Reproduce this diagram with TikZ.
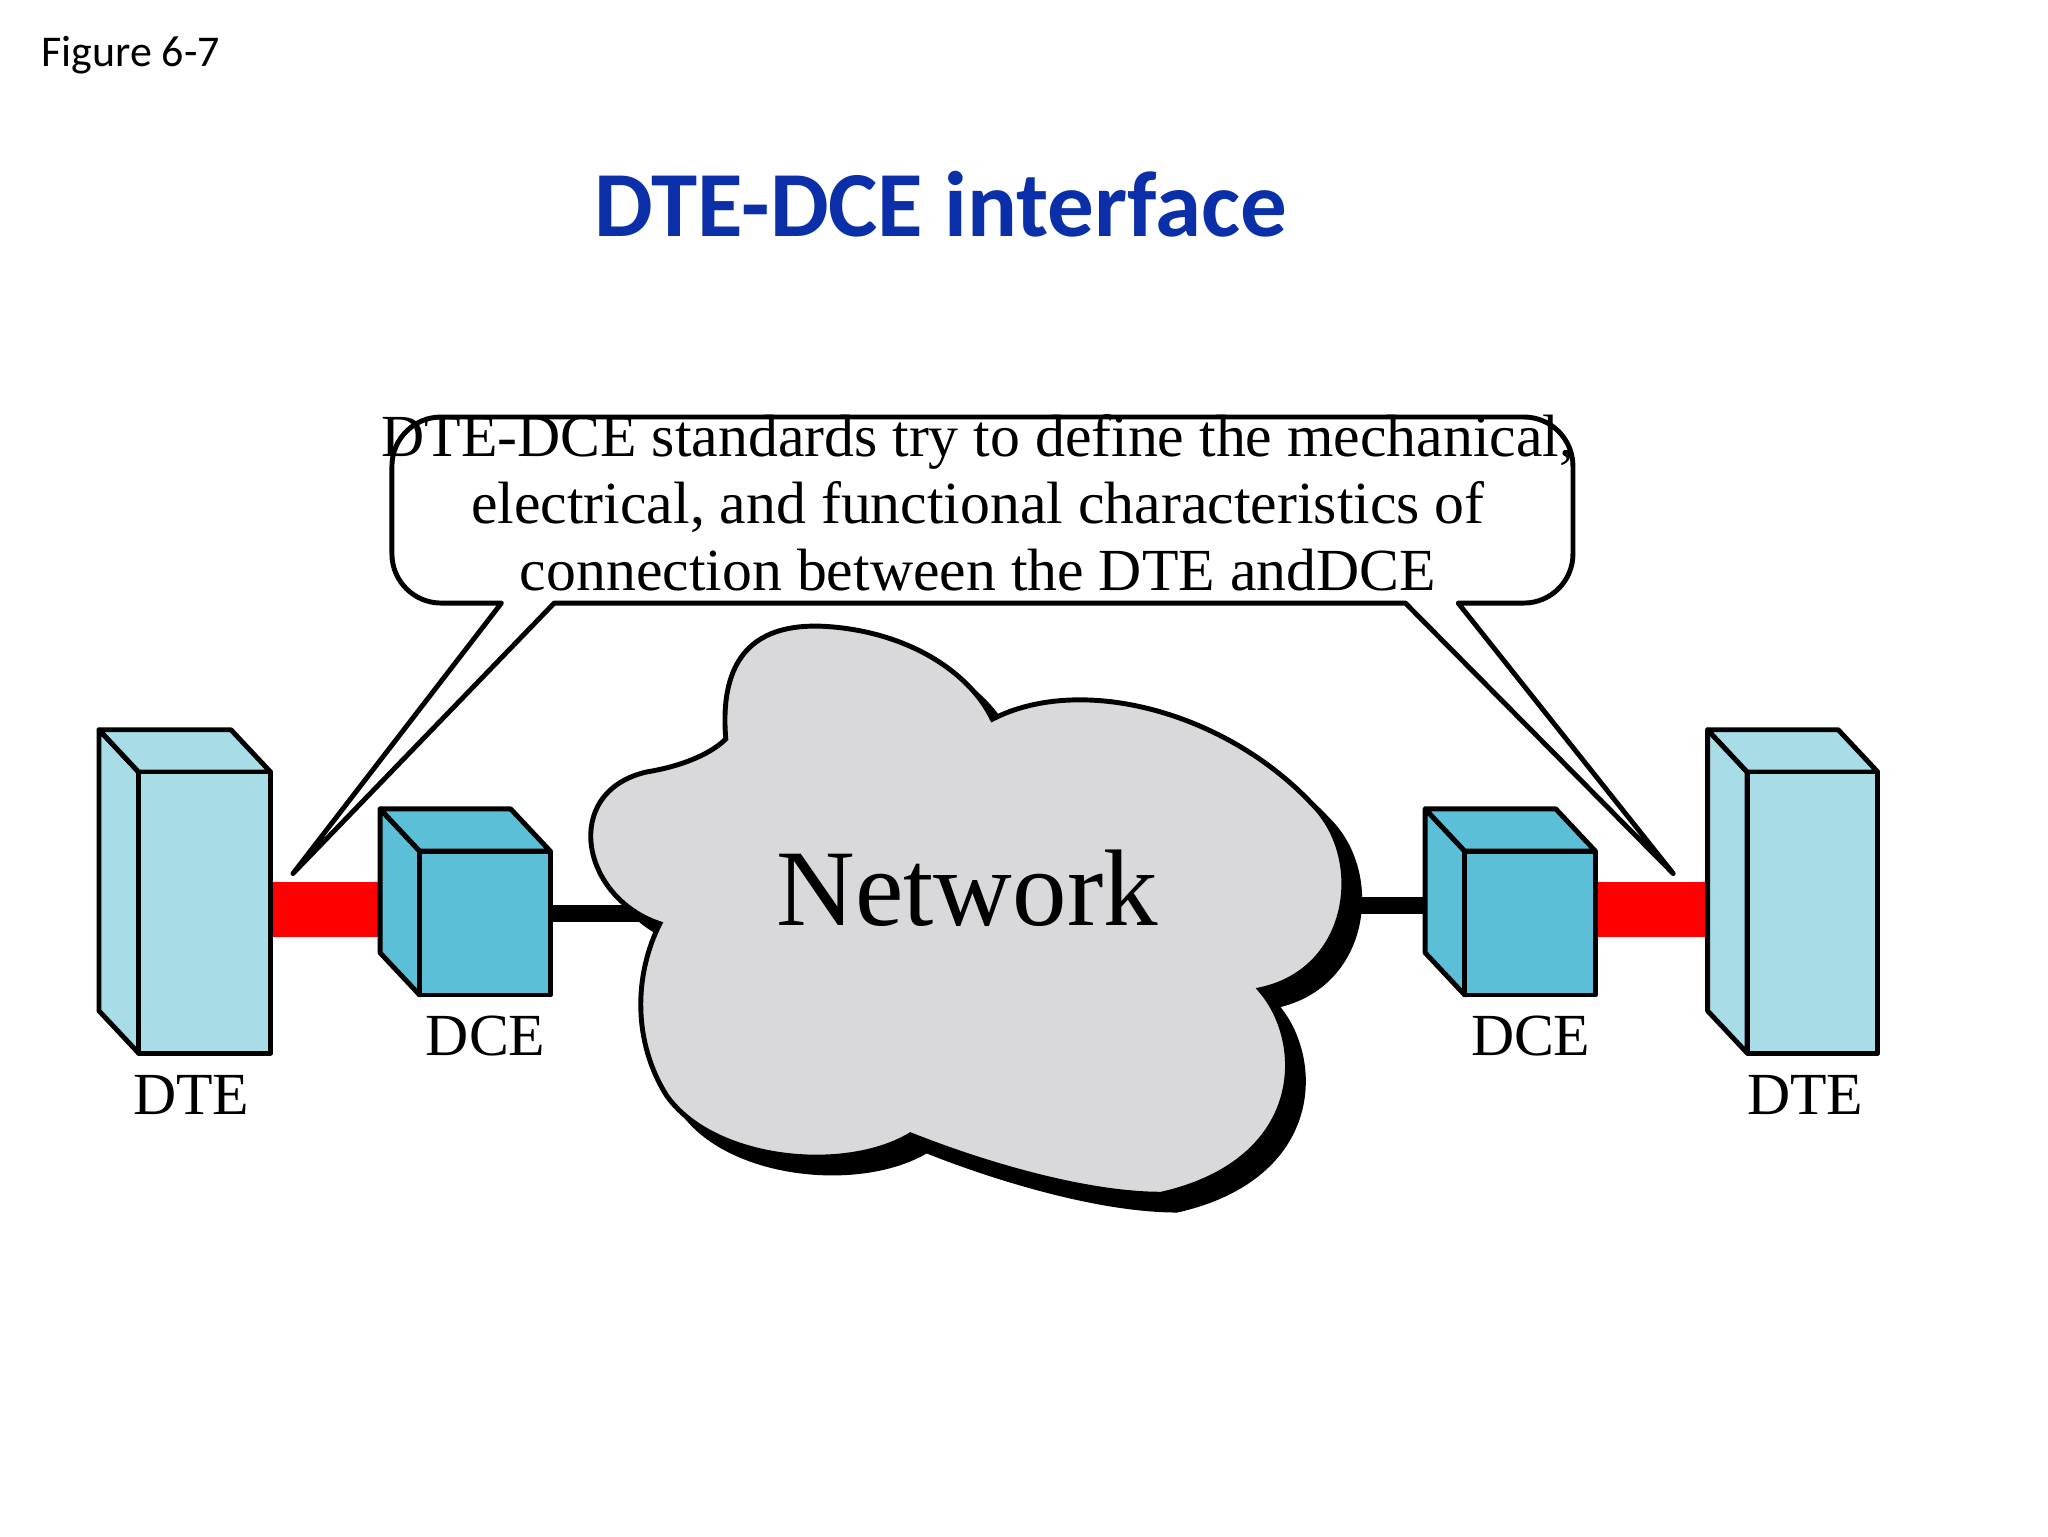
\documentclass[tikz,border=0pt]{standalone}
\usepackage{fontspec}
\newfontfamily\calib{Carlito}
\newfontfamily\serifrm{Liberation Serif}
\usetikzlibrary{positioning}
\definecolor{dtecol}{HTML}{A8DDE8}
\definecolor{dcecol}{HTML}{5BBFD8}
\definecolor{titleblue}{HTML}{0A2FA8}
\definecolor{cloudgray}{HTML}{D9D9DB}
\tikzset{
  lbl/.style={font=\serifrm\fontsize{17}{19}\selectfont},
  face/.style={draw=black,line width=1.4pt,line join=round},
  redlink/.style={draw=red,line width=0.55cm},
  blacklink/.style={draw=black,line width=0.17cm},
}
% front x, front y (top), width, height, fill
\newcommand\devbox[5]{%
  \filldraw[face,fill=#5] (#1-30,#2-32) -- (#1,#2) -- (#1,#2+#4) -- (#1-30,#2+#4-32) -- cycle;
  \filldraw[face,fill=#5] (#1-30,#2-32) -- (#1+#3-30,#2-32) -- (#1+#3,#2) -- (#1,#2) -- cycle;
  \filldraw[face,fill=#5] (#1,#2) rectangle (#1+#3,#2+#4);
}
\begin{document}
\begin{tikzpicture}[x=0.0132cm,y=-0.0132cm]
\useasboundingbox[fill=white] (0,0) rectangle (1552,1164);
\node[anchor=west,font=\calib\fontsize{12.5}{12.5}\selectfont] (fig) at (22,42) {Figure 6-7};
\node[font=\calib\bfseries\fontsize{26.5}{26.5}\selectfont,text=titleblue] (title) at (713,155) {DTE-DCE interface};

% links
\coordinate (ldte) at (205,689);
\coordinate (ldce) at (288,689);
\coordinate (rdce) at (1209,689);
\coordinate (rdte) at (1294,689);
\coordinate (lnet) at (500,692);
\coordinate (rnet) at (1080,686);
\draw[redlink] (ldte) -- (ldce);
\draw[redlink] (rdce) -- (rdte);
\draw[blacklink] (417,692) -- (lnet);
\draw[blacklink] (rnet) -- (1010,686);

% cloud
\foreach \dx/\col in {12/black,0/cloudgray}{
\begin{scope}[shift={(\dx,\dx)}]
\filldraw[fill=\col,draw=black,line width=1.4pt]
  (500,700) .. controls (440,680) and (425,600) .. (490,585)
  .. controls (520,580) and (540,570) .. (550,560)
  .. controls (545,500) and (570,470) .. (630,475)
  .. controls (690,480) and (735,510) .. (752,545)
  .. controls (820,510) and (930,540) .. (995,610)
  .. controls (1035,650) and (1025,735) .. (955,750)
  .. controls (990,790) and (990,880) .. (880,905)
  .. controls (820,905) and (740,880) .. (690,860)
  .. controls (640,890) and (540,880) .. (505,830)
  .. controls (480,790) and (480,740) .. (500,700) -- cycle;
\end{scope}}
\node[font=\serifrm\fontsize{31}{31}\selectfont] (net) at (733,673) {Network};

% devices
\devbox{105}{585}{100}{213}{dtecol}
\devbox{318}{645}{99}{109}{dcecol}
\devbox{1110}{645}{99}{109}{dcecol}
\devbox{1324}{585}{99}{213}{dtecol}
\node[lbl] (ldtel) at (145,830) {DTE};
\node[lbl] (ldcel) at (368,785) {DCE};
\node[lbl] (rdcel) at (1160,785) {DCE};
\node[lbl] (rdtel) at (1368,830) {DTE};

% callout
\coordinate (ltip) at (222,662);
\coordinate (rtip) at (1268,662);
\filldraw[fill=white,draw=black,line width=1.4pt,line join=round]
  (380,457) [rounded corners=14] -- (297,457) -- (297,316) -- (1192,316) -- (1192,457) [sharp corners] -- (1105,457)
  -- (rtip) -- (1065,457) -- (420,457) -- (ltip) -- cycle;
\node[lbl,align=center,inner sep=0pt] (note) at (741,381)
  {DTE-DCE standards try to define the mechanical,\\
   electrical, and functional characteristics of\\
   connection between the DTE andDCE};
\end{tikzpicture}
\end{document}
